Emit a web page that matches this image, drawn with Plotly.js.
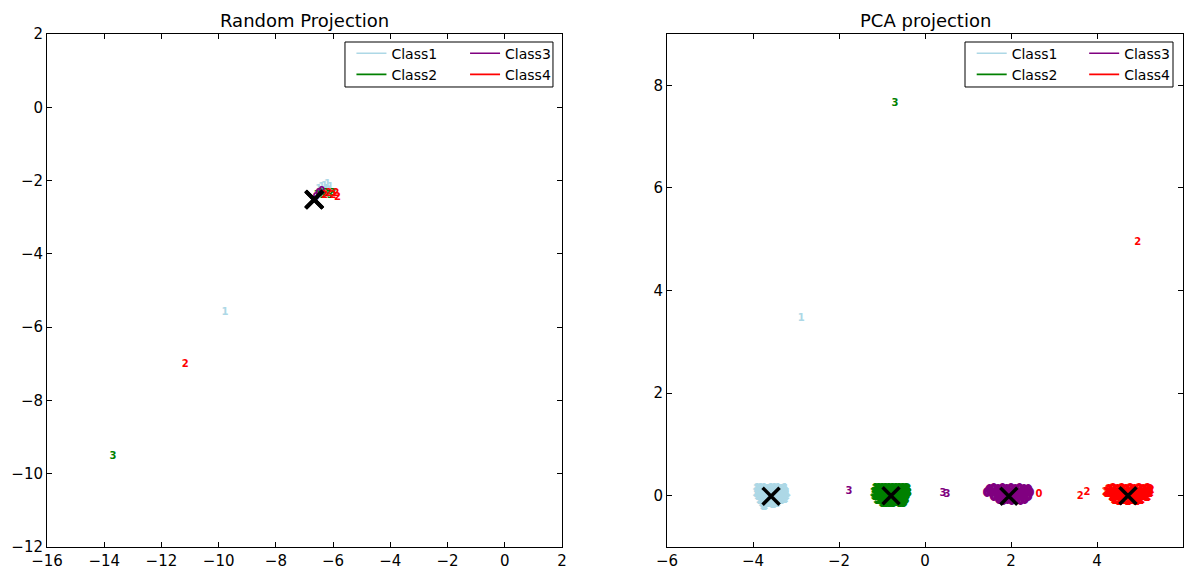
<!DOCTYPE html>
<html>
<head>
<meta charset="utf-8">
<script src="https://cdn.plot.ly/plotly-3.0.1.min.js"></script>
<style>html,body{margin:0;padding:0;background:#fff;}#chart{width:1187px;height:571px;}</style>
</head>
<body>
<div id="chart"></div>
<script>
// ---------- Data: Random Projection (left) ----------
const rpC1x = [-6.5,-6.4,-6.3,-6.2,-6.1,-6.35,-6.25,-6.15,-6.45,-9.78];
const rpC1y = [-2.25,-2.2,-2.15,-2.1,-2.2,-2.3,-2.25,-2.3,-2.3,-5.59];
const rpC2x = [-6.55,-6.45,-6.35,-6.25,-6.1,-6.0,-13.69];
const rpC2y = [-2.4,-2.35,-2.4,-2.35,-2.4,-2.35,-9.52];
const rpC3x = [-6.5,-6.6,-6.4];
const rpC3y = [-2.35,-2.45,-2.3];
const rpC4x = [-6.3,-6.15,-6.0,-5.9,-5.85,-11.17];
const rpC4y = [-2.4,-2.35,-2.4,-2.35,-2.45,-7.01];
const rpCentX = [-6.67,-6.66,-6.65,-6.66];
const rpCentY = [-2.52,-2.51,-2.52,-2.53];

// ---------- Data: PCA projection (right), dense clusters ----------
const pcaC1x = [-3.90,-3.82,-3.74,-3.66,-3.58,-3.50,-3.42,-3.34,-3.26,
                -3.92,-3.84,-3.76,-3.68,-3.60,-3.52,-3.44,-3.36,-3.28,-3.22,
                -3.88,-3.80,-3.72,-3.64,-3.56,-3.48,-3.40,-3.32,-3.25,
                -3.84,-3.76,-3.68,-3.60,-3.52,-3.44,-3.36,-3.28,
                -3.78,-3.70,-3.62,-3.54,-3.46,-3.75];
const pcaC1y = [0.12,0.13,0.12,0.11,0.12,0.13,0.12,0.11,0.12,
                0.05,0.04,0.06,0.05,0.04,0.05,0.06,0.05,0.04,0.05,
                -0.02,-0.03,-0.02,-0.01,-0.02,-0.03,-0.02,-0.01,-0.02,
                -0.09,-0.10,-0.09,-0.08,-0.09,-0.10,-0.09,-0.08,
                -0.16,-0.15,-0.16,-0.17,-0.15,-0.21];
const pcaC2x = [-1.14,-1.06,-0.98,-0.90,-0.82,-0.74,-0.66,-0.58,-0.50,-0.42,
                -1.18,-1.10,-1.02,-0.94,-0.86,-0.78,-0.70,-0.62,-0.54,-0.46,-0.40,
                -1.16,-1.08,-1.00,-0.92,-0.84,-0.76,-0.68,-0.60,-0.52,-0.44,
                -1.10,-1.02,-0.94,-0.86,-0.78,-0.70,-0.62,-0.54,-0.46,
                -0.98,-0.90,-0.82,-0.74,-0.66,-0.58,-0.50];
const pcaC2y = [0.12,0.12,0.13,0.12,0.12,0.13,0.12,0.12,0.13,0.12,
                0.05,0.05,0.06,0.05,0.04,0.05,0.06,0.05,0.04,0.05,0.05,
                -0.02,-0.02,-0.01,-0.02,-0.03,-0.02,-0.01,-0.02,-0.03,-0.02,
                -0.09,-0.09,-0.08,-0.09,-0.10,-0.09,-0.08,-0.09,-0.10,
                -0.15,-0.15,-0.16,-0.15,-0.14,-0.15,-0.15];
const pcaC3x = [1.50,1.60,1.70,1.80,1.90,2.00,2.10,2.20,2.30,2.40,
                1.44,1.54,1.64,1.74,1.84,1.94,2.04,2.14,2.24,2.34,2.44,
                1.60,1.70,1.80,1.90,2.00,2.10,2.20,2.30,2.40,
                1.72,1.82,1.92,2.02,2.12,2.22,2.32];
const pcaC3y = [0.11,0.12,0.11,0.12,0.11,0.12,0.11,0.12,0.11,0.11,
                0.04,0.05,0.04,0.05,0.04,0.05,0.04,0.05,0.04,0.05,0.04,
                -0.03,-0.02,-0.03,-0.02,-0.03,-0.02,-0.03,-0.02,-0.03,
                -0.10,-0.11,-0.10,-0.11,-0.10,-0.11,-0.10];
const pcaC4x = [4.28,4.38,4.48,4.58,4.68,4.78,4.88,4.98,5.08,5.18,5.24,
                4.24,4.34,4.44,4.54,4.64,4.74,4.84,4.94,5.04,5.14,5.22,
                4.36,4.46,4.56,4.66,4.76,4.86,4.96,5.06,5.16,
                4.42,4.52,4.62,4.72,4.82,4.92,5.02];
const pcaC4y = [0.11,0.12,0.11,0.12,0.11,0.12,0.11,0.12,0.11,0.12,0.11,
                0.04,0.05,0.04,0.05,0.04,0.05,0.04,0.05,0.04,0.05,0.04,
                -0.03,-0.02,-0.03,-0.02,-0.03,-0.02,-0.03,-0.02,-0.03,
                -0.10,-0.11,-0.10,-0.11,-0.10,-0.11,-0.10];
// ---------- PCA stray / outlier points ----------
const pcaS1x = [-2.88];            const pcaS1y = [3.46];
const pcaS2x = [-0.70];            const pcaS2y = [7.65];
const pcaS3x = [-1.77,0.42,0.51];  const pcaS3y = [0.08,0.04,0.03];
const pcaS4x = [3.61,3.77,4.19,4.95]; const pcaS4y = [-0.02,0.06,0.06,4.93];
const pcaS4bx = [2.65];            const pcaS4by = [0.02];
const pcaCentX = [-3.58,-0.79,1.95,4.72];
const pcaCentY = [-0.01,0.0,-0.01,0.0];

const classNames = ['Class1','Class2','Class3','Class4'];
const classColors = ['#add8e6','#008000','#800080','#ff0000'];
const rpLabels = ['1','3','0','2'];
const pcaLabels = ['1','3','0','2'];
const pcaStrayLabels = ['1','3','3','2','0'];

// ---------- Build traces ----------
function textTrace(x, y, lab, ci, xa, ya, fat){
  const c = classColors[ci];
  const f = {family:'DejaVu Sans', size:10, color:c, weight:'bold'};
  if (fat) f.shadow = `1px 0 0 ${c}, -1px 0 0 ${c}, 0 1px 0 ${c}, 0 -1px 0 ${c}`;
  return {type:'scatter', mode:'text', x:x, y:y, text:x.map(()=>lab), textposition:'middle center',
    textfont:f, xaxis:xa, yaxis:ya, showlegend:false, hoverinfo:'skip'};
}
const traces = [];
const rp = [[rpC1x,rpC1y],[rpC2x,rpC2y],[rpC3x,rpC3y],[rpC4x,rpC4y]];
const pc = [[pcaC1x,pcaC1y],[pcaC2x,pcaC2y],[pcaC3x,pcaC3y],[pcaC4x,pcaC4y]];
rp.forEach((d,i)=>traces.push(textTrace(d[0],d[1],rpLabels[i],i,'x','y',false)));
pc.forEach((d,i)=>traces.push(textTrace(d[0],d[1],pcaLabels[i],i,'x2','y2',true)));
const strays = [[pcaS1x,pcaS1y,0],[pcaS2x,pcaS2y,1],[pcaS3x,pcaS3y,2],[pcaS4x,pcaS4y,3],[pcaS4bx,pcaS4by,3]];
strays.forEach((d,k)=>traces.push(textTrace(d[0],d[1],pcaStrayLabels[k],d[2],'x2','y2',false)));
const xMarker = {symbol:'x-thin', size:17, color:'black', line:{width:3.5, color:'black'}};
traces.push({type:'scatter', mode:'markers', x:rpCentX, y:rpCentY, marker:xMarker, xaxis:'x', yaxis:'y', showlegend:false, hoverinfo:'skip'});
traces.push({type:'scatter', mode:'markers', x:pcaCentX, y:pcaCentY, marker:xMarker, xaxis:'x2', yaxis:'y2', showlegend:false, hoverinfo:'skip'});

// legend entries (two columns per panel, via two legends each)
const legendIds = [['legend','legend','legend2','legend2'],['legend3','legend3','legend4','legend4']];
[['x','y'],['x2','y2']].forEach((ax,p)=>{
  classNames.forEach((n,i)=>{
    traces.push({type:'scatter', mode:'lines', x:[null], y:[null], name:n,
      line:{color:classColors[i], width:1.6}, xaxis:ax[0], yaxis:ax[1],
      legend:legendIds[p][i], showlegend:true, hoverinfo:'skip'});
  });
});

const axBase = {showgrid:false, zeroline:false, showline:true, linecolor:'black', linewidth:1,
  mirror:'allticks', ticks:'inside', ticklen:5, tickcolor:'black', dtick:2,
  tickfont:{family:'DejaVu Sans', size:15, color:'black'}};
const legBase = {bgcolor:'rgba(0,0,0,0)', borderwidth:0, font:{family:'DejaVu Sans', size:14, color:'black'},
  xanchor:'left', yanchor:'top', y:0.993, tracegroupgap:0, itemwidth:30};

const layout = {
  width:1187, height:571, paper_bgcolor:'white', plot_bgcolor:'white',
  margin:{l:47, r:4, t:34, b:24},
  xaxis:Object.assign({}, axBase, {domain:[0,0.4533], range:[-16,2], anchor:'y'}),
  yaxis:Object.assign({}, axBase, {domain:[0,1], range:[-12,2], anchor:'x'}),
  xaxis2:Object.assign({}, axBase, {domain:[0.5458,1], range:[-6,6], anchor:'y2'}),
  yaxis2:Object.assign({}, axBase, {domain:[0,1], range:[-1,9], anchor:'x2'}),
  legend:Object.assign({}, legBase, {x:0.268}),
  legend2:Object.assign({}, legBase, {x:0.368}),
  legend3:Object.assign({}, legBase, {x:0.814}),
  legend4:Object.assign({}, legBase, {x:0.913}),
  shapes:[
    {type:'rect', xref:'paper', yref:'paper', x0:0.2623, x1:0.4454, y0:0.8967, y1:0.9844, line:{color:'black', width:1}, fillcolor:'rgba(0,0,0,0)', layer:'above'},
    {type:'rect', xref:'paper', yref:'paper', x0:0.8081, x1:0.9912, y0:0.8967, y1:0.9844, line:{color:'black', width:1}, fillcolor:'rgba(0,0,0,0)', layer:'above'}
  ],
  annotations:[
    {text:'Random Projection', xref:'x domain', yref:'y domain', x:0.5, y:1, xanchor:'center', yanchor:'bottom', yshift:1, showarrow:false, font:{family:'DejaVu Sans', size:18, color:'black'}},
    {text:'PCA projection', xref:'x2 domain', yref:'y2 domain', x:0.5, y:1, xanchor:'center', yanchor:'bottom', yshift:1, showarrow:false, font:{family:'DejaVu Sans', size:18, color:'black'}}
  ]
};
Plotly.newPlot('chart', traces, layout, {displayModeBar:false, staticPlot:true});
</script>
</body>
</html>
